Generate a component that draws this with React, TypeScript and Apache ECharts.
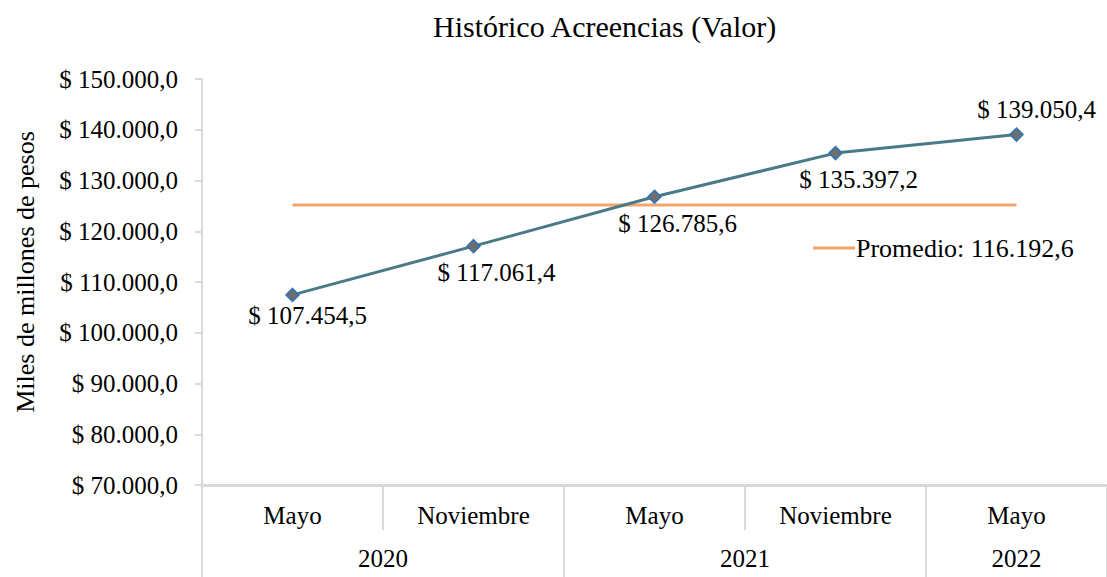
import React, { useEffect, useRef } from "react";
import * as echarts from "echarts";

const months = ["Mayo", "Noviembre", "Mayo", "Noviembre", "Mayo"];
const monthYears = ["2020", "2020", "2021", "2021", "2022"];
const values = [107454.5, 117061.4, 126785.6, 135397.2, 139050.4];
const averageLine = [125149.8, 125149.8, 125149.8, 125149.8, 125149.8];
const averageLabel = "Promedio: 116.192,6";
const title = "Histórico Acreencias (Valor)";
const yAxisName = "Miles de millones de pesos";

const FONT = "'Liberation Serif', 'Times New Roman', serif";
const GRAY = "#d9d9d9";

function fmt(v: number): string {
  const neg = v < 0;
  const fixed = Math.abs(v).toFixed(1);
  const [intPart, dec] = fixed.split(".");
  const withDots = intPart.replace(/\B(?=(\d{3})+(?!\d))/g, ".");
  return (neg ? "-" : "") + "$ " + withDots + "," + dec;
}

// year groups derived from category years
const groups: { year: string; start: number; count: number }[] = [];
monthYears.forEach((y, i) => {
  const last = groups[groups.length - 1];
  if (last && last.year === y) last.count++;
  else groups.push({ year: y, start: i, count: 1 });
});
const yearLabelPos = groups.map((g) => g.start * 2 + g.count);
const yearTickPos = [...groups.map((g) => g.start * 2), months.length * 2];

export default function App() {
  const ref = useRef<HTMLDivElement>(null);
  useEffect(() => {
    if (!ref.current) return;
    const chart = echarts.init(ref.current, null, { renderer: "svg" });
    const n = values.length;
    chart.setOption({
      animation: false,
      backgroundColor: "#ffffff",
      textStyle: { fontFamily: FONT, color: "#000" },
      title: {
        text: title,
        left: 428,
        top: 6,
        textStyle: { fontFamily: FONT, fontSize: 30, fontWeight: "normal", color: "#000" },
      },
      legend: {
        data: [averageLabel],
        left: 808,
        top: 230,
        itemWidth: 42,
        itemHeight: 3,
        itemGap: 0,
        icon: "rect",
        textStyle: { fontFamily: FONT, fontSize: 26, color: "#000", padding: [0, 0, 0, -4] },
      },
      grid: { left: 202, top: 79, width: 910, height: 406 },
      xAxis: [
        {
          type: "category",
          data: months,
          boundaryGap: true,
          axisLine: { show: true, lineStyle: { color: GRAY, width: 3 } },
          axisTick: { show: true, interval: 0, length: 45, lineStyle: { color: GRAY, width: 2 } },
          axisLabel: { fontFamily: FONT, fontSize: 25, color: "#000", margin: 18, interval: 0 },
        },
        {
          type: "value",
          min: 0,
          max: n * 2,
          position: "bottom",
          axisLine: { show: false },
          splitLine: { show: false },
          axisTick: {
            show: true,
            customValues: yearTickPos,
            length: 92,
            lineStyle: { color: GRAY, width: 2 },
          },
          axisLabel: {
            customValues: yearLabelPos,
            margin: 61,
            fontFamily: FONT,
            fontSize: 25,
            color: "#000",
            formatter: (v: number) => {
              const idx = yearLabelPos.indexOf(v);
              return idx >= 0 ? groups[idx].year : "";
            },
          },
        },
      ],
      yAxis: {
        type: "value",
        min: 70000,
        max: 150000,
        interval: 10000,
        name: yAxisName,
        nameLocation: "middle",
        nameGap: 164,
        nameRotate: 90,
        nameTextStyle: { fontFamily: FONT, fontSize: 26, color: "#000", padding: [0, 0, 0, 20] },
        axisLine: { show: true, lineStyle: { color: GRAY, width: 2 } },
        axisTick: { show: true, length: 7, lineStyle: { color: GRAY, width: 2 } },
        splitLine: { show: false },
        axisLabel: {
          fontFamily: FONT,
          fontSize: 25,
          color: "#000",
          margin: 24,
          formatter: (v: number) => fmt(v),
        },
      },
      series: [
        {
          name: averageLabel,
          type: "line",
          data: averageLine,
          symbol: "none",
          lineStyle: { color: "#f4a46c", width: 3 },
          itemStyle: { color: "#f4a46c" },
          z: 2,
        },
        {
          name: "Acreencias",
          type: "line",
          data: values.map((v, i) => ({
            value: v,
            label:
              i === n - 1
                ? { position: "top", offset: [20, 0], distance: 5 }
                : { position: "bottom", offset: [i === 0 ? 15 : 23, 0], distance: i === 0 ? 1 : 7 },
          })),
          symbol: "diamond",
          symbolSize: 13,
          lineStyle: { color: "#4a7a86", width: 3 },
          itemStyle: { color: "#6e6e6e", borderColor: "#2e75b6", borderWidth: 1.5 },
          label: {
            show: true,
            fontFamily: FONT,
            fontSize: 25,
            color: "#000",
            formatter: (p: any) => fmt(p.value),
          },
          z: 3,
        },
      ],
    });
    return () => chart.dispose();
  }, []);
  return (
    <div
      ref={ref}
      style={{ position: "fixed", left: 0, top: 0, width: 1107, height: 577, background: "#fff" }}
    />
  );
}
